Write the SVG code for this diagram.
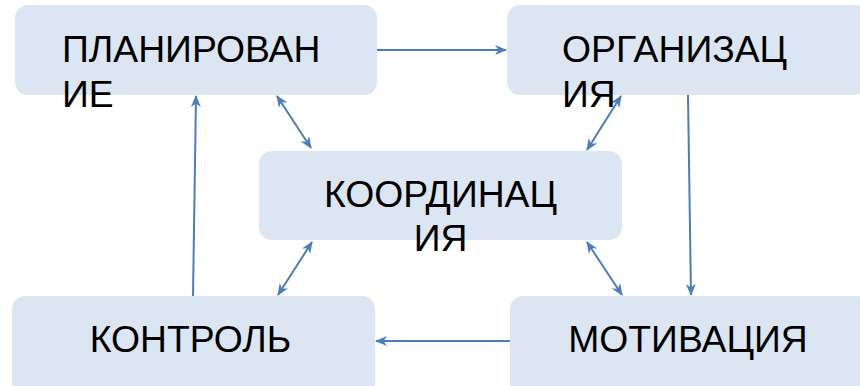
<svg xmlns="http://www.w3.org/2000/svg" width="860" height="386" viewBox="0 0 860 386">
<style>
.box{fill:#dce6f2;}
.t{font-family:"Liberation Sans",Arial,sans-serif;font-size:37.3px;fill:#000;}
.c{stroke:#4a7ebb;stroke-width:2;fill:none;}
</style>
<defs>
<marker id="ah" viewBox="0 0 12 10" refX="11" refY="5" markerWidth="12" markerHeight="10" markerUnits="userSpaceOnUse" orient="auto-start-reverse">
<path d="M0,0 L12,5 L0,10 L3.5,5 z" fill="#4a7ebb"/>
</marker>
</defs>
<rect width="860" height="386" fill="#fff"/>
<g id="connectors">
<line class="c" x1="377" y1="50" x2="506" y2="50" marker-end="url(#ah)"/>
<line class="c" x1="688" y1="95" x2="691" y2="295" marker-end="url(#ah)"/>
<line class="c" x1="510" y1="341" x2="376" y2="341" marker-end="url(#ah)"/>
<line class="c" x1="193" y1="296" x2="196" y2="96" marker-end="url(#ah)"/>
<line class="c" x1="277" y1="96" x2="311" y2="148" marker-start="url(#ah)" marker-end="url(#ah)"/>
<line class="c" x1="621" y1="96" x2="587" y2="150" marker-start="url(#ah)" marker-end="url(#ah)"/>
<line class="c" x1="312" y1="242" x2="278" y2="295" marker-start="url(#ah)" marker-end="url(#ah)"/>
<line class="c" x1="587" y1="242" x2="622" y2="295" marker-start="url(#ah)" marker-end="url(#ah)"/>
</g>
<g id="planning">
<rect class="box" x="15" y="5" width="362" height="90" rx="13"/>
<text class="t" x="62" y="62">ПЛАНИРОВАН</text>
<text class="t" x="62" y="107">ИЕ</text>
</g>
<g id="organization">
<rect class="box" x="507" y="5" width="360" height="90" rx="13"/>
<text class="t" x="562" y="62">ОРГАНИЗАЦ</text>
<text class="t" x="562" y="107">ИЯ</text>
</g>
<g id="coordination">
<rect class="box" x="259" y="151" width="363" height="89" rx="13"/>
<text class="t" x="440.5" y="207" text-anchor="middle">КООРДИНАЦ</text>
<text class="t" x="440.5" y="251" text-anchor="middle">ИЯ</text>
</g>
<g id="control">
<rect class="box" x="12" y="296" width="363" height="100" rx="13"/>
<text class="t" x="190.5" y="352" text-anchor="middle">КОНТРОЛЬ</text>
</g>
<g id="motivation">
<rect class="box" x="510" y="296" width="360" height="100" rx="13"/>
<text class="t" x="688" y="352" text-anchor="middle">МОТИВАЦИЯ</text>
</g>
</svg>
